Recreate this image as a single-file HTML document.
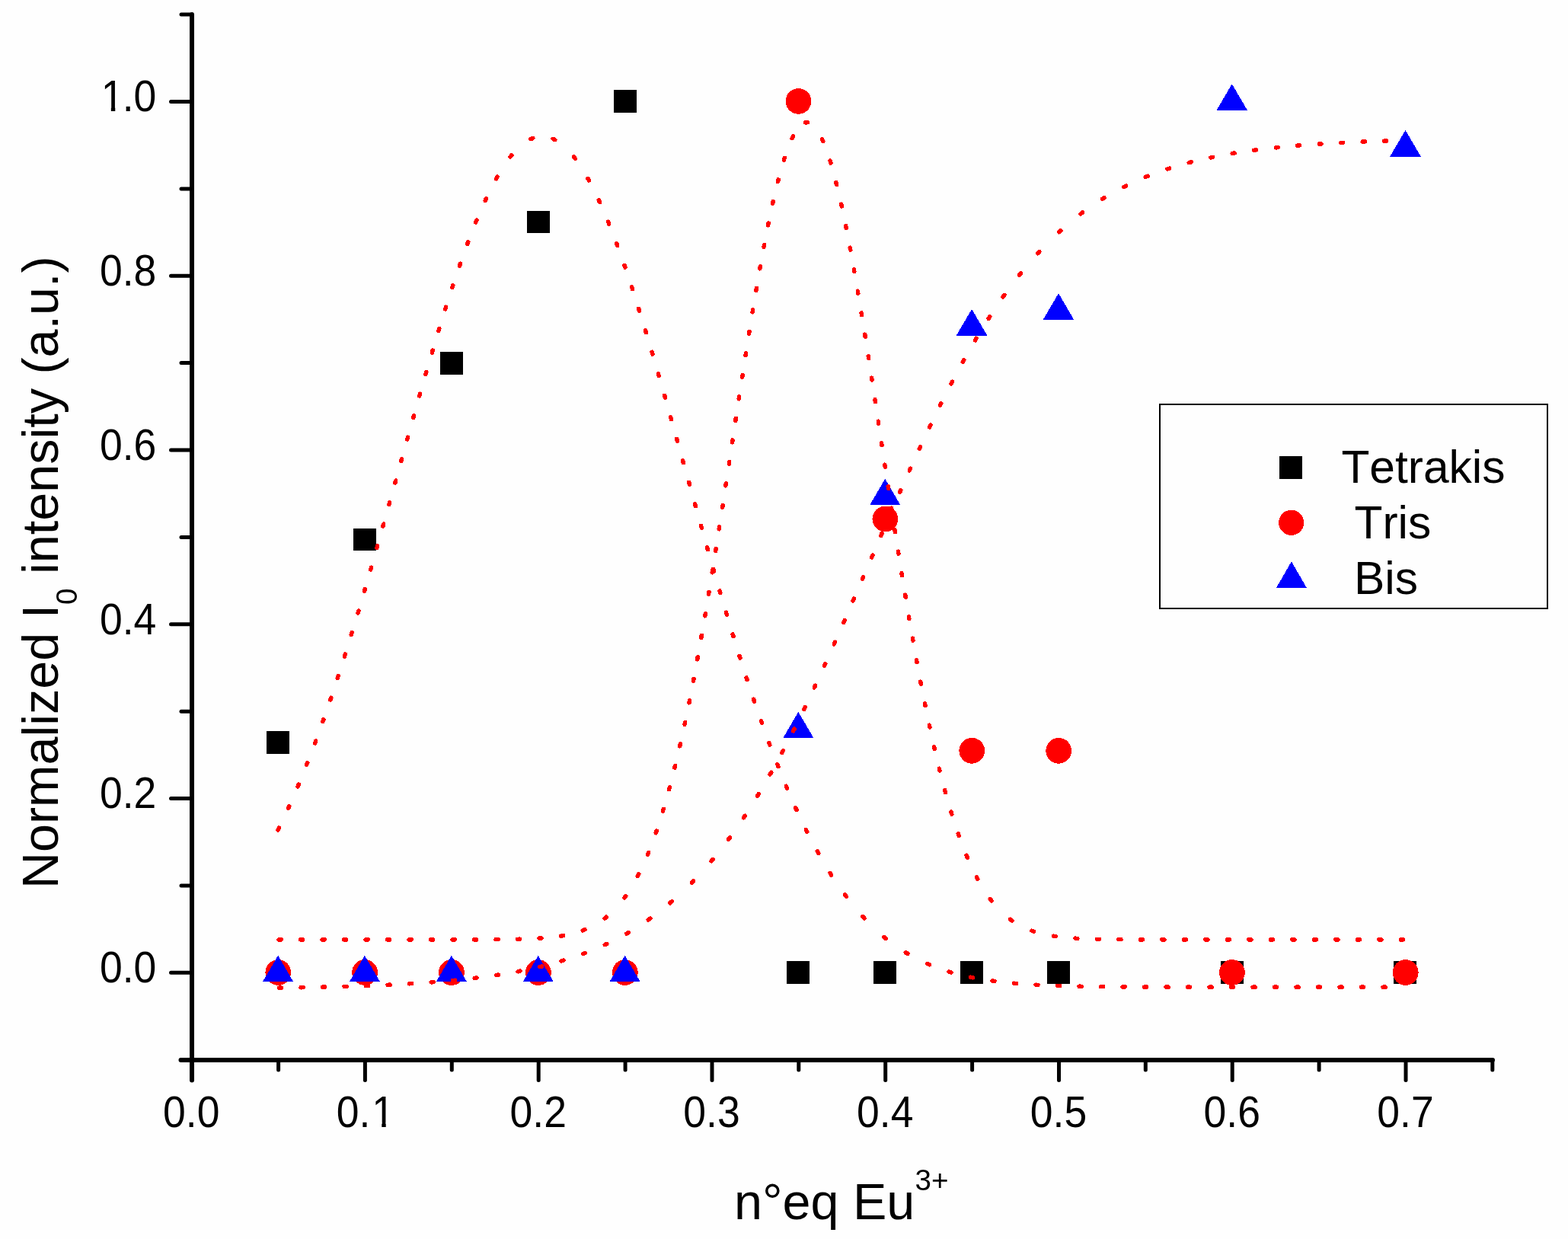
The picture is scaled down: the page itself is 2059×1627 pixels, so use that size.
<!DOCTYPE html>
<html><head><meta charset="utf-8"><title>Normalized I0 intensity vs n°eq Eu3+</title>
<style>html,body{margin:0;padding:0;background:#fefefe;}svg{display:block;}text{font-kerning:none;font-feature-settings:"kern" 0;}</style>
</head><body>
<svg width="2059" height="1627" viewBox="0 0 2059 1627">
<style>circle,polygon,path{shape-rendering:crispEdges}</style>
<rect width="2059" height="1627" fill="#fefefe"/>
<rect x="350" y="960" width="30" height="30" fill="#000"/>
<rect x="464" y="694" width="30" height="29" fill="#000"/>
<rect x="578" y="462" width="30" height="30" fill="#000"/>
<rect x="692" y="277" width="30" height="29" fill="#000"/>
<rect x="806" y="118" width="30" height="30" fill="#000"/>
<rect x="1033" y="1262" width="30" height="30" fill="#000"/>
<rect x="1147" y="1262" width="30" height="30" fill="#000"/>
<rect x="1261" y="1262" width="30" height="30" fill="#000"/>
<rect x="1375" y="1262" width="30" height="30" fill="#000"/>
<rect x="1603" y="1262" width="30" height="30" fill="#000"/>
<rect x="1830" y="1262" width="30" height="30" fill="#000"/>
<circle cx="365.3" cy="1277.0" r="16.9" fill="#f00"/>
<circle cx="479.1" cy="1277.0" r="16.9" fill="#f00"/>
<circle cx="593.0" cy="1277.0" r="16.9" fill="#f00"/>
<circle cx="706.9" cy="1277.0" r="16.9" fill="#f00"/>
<circle cx="820.8" cy="1277.0" r="16.9" fill="#f00"/>
<circle cx="1048.5" cy="132.9" r="16.9" fill="#f00"/>
<circle cx="1162.4" cy="681.5" r="16.9" fill="#f00"/>
<circle cx="1276.3" cy="985.8" r="16.9" fill="#f00"/>
<circle cx="1390.2" cy="985.8" r="16.9" fill="#f00"/>
<circle cx="1617.9" cy="1277.0" r="16.9" fill="#f00"/>
<circle cx="1845.7" cy="1277.0" r="16.9" fill="#f00"/>
<polygon points="365.1,1254.8 385.3,1289.4 344.8,1289.4" fill="#00f"/>
<polygon points="478.9,1254.8 499.2,1289.4 458.7,1289.4" fill="#00f"/>
<polygon points="592.8,1254.8 613.1,1289.4 572.6,1289.4" fill="#00f"/>
<polygon points="706.7,1254.8 727.0,1289.4 686.5,1289.4" fill="#00f"/>
<polygon points="820.6,1254.8 840.8,1289.4 800.3,1289.4" fill="#00f"/>
<polygon points="1048.3,934.8 1068.6,969.4 1028.1,969.4" fill="#00f"/>
<polygon points="1162.2,628.8 1182.5,663.4 1142.0,663.4" fill="#00f"/>
<polygon points="1276.1,405.9 1296.3,440.5 1255.8,440.5" fill="#00f"/>
<polygon points="1390.0,385.2 1410.2,419.8 1369.7,419.8" fill="#00f"/>
<polygon points="1617.7,110.2 1638.0,144.8 1597.5,144.8" fill="#00f"/>
<polygon points="1845.5,170.9 1865.7,205.5 1825.2,205.5" fill="#00f"/>
<path fill="none" stroke="#f00" stroke-width="5.5" stroke-linecap="round" d="M365.0 1089.9l1.3 -2.7M378.6 1061.4l1.2 -2.7M391.0 1032.9l1.2 -2.8M402.6 1004.4l1.1 -2.8M413.6 975.9l1.0 -2.8M423.9 947.5l1.0 -2.8M433.8 919.0l1.0 -2.8M443.3 890.5l0.9 -2.9M452.4 862.0l0.9 -2.9M461.3 833.5l0.9 -2.9M470.0 805.0l0.9 -2.9M478.4 776.5l0.8 -2.9M486.7 748.0l0.8 -2.9M494.9 719.5l0.8 -2.9M502.9 691.0l0.8 -2.9M510.9 662.5l0.8 -2.9M518.9 634.0l0.8 -2.9M526.8 605.5l0.8 -2.9M534.8 577.0l0.8 -2.9M542.8 548.5l0.8 -2.9M550.8 520.0l0.8 -2.9M559.0 491.5l0.8 -2.9M567.3 463.0l0.9 -2.9M575.9 434.5l0.9 -2.9M584.7 406.0l0.9 -2.9M593.9 377.5l0.9 -2.8M603.5 349.0l1.0 -2.8M613.7 320.4l1.0 -2.8M624.8 291.9l1.1 -2.8M637.1 263.4l1.3 -2.7M651.5 234.8l1.5 -2.6M670.0 206.2l1.9 -2.3M697.0 182.6l2.8 -1.2M726.1 182.3l2.7 1.3M753.5 206.0l1.8 2.4M771.9 234.4l1.5 2.6M786.3 262.9l1.3 2.7M798.6 291.3l1.1 2.8M809.7 319.8l1.0 2.8M819.9 348.3l1.0 2.8M829.6 376.8l0.9 2.9M838.7 405.3l0.9 2.9M847.5 433.8l0.9 2.9M856.1 462.3l0.9 2.9M864.4 490.8l0.8 2.9M872.6 519.3l0.8 2.9M880.7 547.8l0.8 2.9M888.7 576.3l0.8 2.9M896.6 604.8l0.8 2.9M904.6 633.3l0.8 2.9M912.5 661.8l0.8 2.9M920.5 690.3l0.8 2.9M928.6 718.8l0.8 2.9M936.7 747.3l0.8 2.9M945.0 775.8l0.8 2.9M953.5 804.3l0.9 2.9M962.1 832.8l0.9 2.9M971.0 861.3l0.9 2.9M980.1 889.8l0.9 2.9M989.6 918.3l1.0 2.8M999.5 946.8l1.0 2.8M1009.8 975.3l1.0 2.8M1020.8 1003.8l1.1 2.8M1032.4 1032.3l1.2 2.8M1044.8 1060.9l1.2 2.7M1058.4 1089.4l1.3 2.7M1073.3 1117.9l1.5 2.6M1090.1 1146.5l1.6 2.5M1109.5 1175.0l1.8 2.4M1132.9 1203.6l2.0 2.2M1160.9 1230.5l2.3 1.9M1189.3 1250.8l2.6 1.5M1217.7 1265.5l2.8 1.2M1246.1 1276.0l2.9 0.9M1274.6 1283.2l2.9 0.6M1303.1 1288.0l3.0 0.4M1331.6 1291.2l3.0 0.3M1360.1 1293.2l3.0 0.2M1388.6 1294.4l3.0 0.1M1417.1 1295.2l3.0 0.1M1445.6 1295.6l3.0 0.0M1474.1 1295.9l3.0 0.0M1502.6 1296.1l3.0 0.0M1531.1 1296.1l3.0 0.0M1559.6 1296.2l3.0 0.0M1588.1 1296.2l3.0 0.0M1616.6 1296.2l3.0 0.0M1645.1 1296.2l3.0 0.0M1673.6 1296.2l3.0 0.0M1702.1 1296.2l3.0 0.0M1730.6 1296.2l3.0 0.0M1759.1 1296.2l3.0 0.0M1787.6 1296.2l3.0 0.0M1816.1 1296.2l3.0 0.0M366.1 1233.9l3.0 -0.0M394.6 1233.9l3.0 -0.0M423.1 1233.9l3.0 -0.0M451.6 1233.9l3.0 -0.0M480.1 1233.9l3.0 -0.0M508.6 1233.9l3.0 -0.0M537.1 1233.9l3.0 -0.0M565.6 1233.9l3.0 -0.0M594.1 1233.9l3.0 -0.0M622.6 1233.9l3.0 -0.0M651.1 1233.7l3.0 -0.0M679.6 1233.3l3.0 -0.1M708.1 1232.1l3.0 -0.2M736.6 1229.1l3.0 -0.5M765.2 1221.8l2.8 -1.1M793.9 1206.1l2.4 -1.9M819.9 1179.0l1.8 -2.4M837.3 1150.6l1.4 -2.7M850.5 1122.2l1.1 -2.8M861.2 1093.7l1.0 -2.8M870.4 1065.2l0.9 -2.9M878.6 1036.7l0.8 -2.9M885.9 1008.2l0.7 -2.9M892.7 979.8l0.7 -2.9M899.0 951.3l0.6 -2.9M904.9 922.8l0.6 -2.9M910.4 894.3l0.6 -2.9M915.7 865.8l0.5 -3.0M920.8 837.3l0.5 -3.0M925.8 808.8l0.5 -3.0M930.5 780.3l0.5 -3.0M935.2 751.8l0.5 -3.0M939.7 723.3l0.5 -3.0M944.2 694.8l0.5 -3.0M948.6 666.3l0.5 -3.0M952.9 637.8l0.5 -3.0M957.3 609.3l0.4 -3.0M961.6 580.8l0.4 -3.0M965.9 552.3l0.4 -3.0M970.2 523.8l0.5 -3.0M974.6 495.3l0.5 -3.0M979.0 466.8l0.5 -3.0M983.5 438.3l0.5 -3.0M988.1 409.8l0.5 -3.0M992.9 381.3l0.5 -3.0M997.8 352.8l0.5 -3.0M1003.0 324.3l0.6 -2.9M1008.6 295.8l0.6 -2.9M1014.6 267.3l0.7 -2.9M1021.4 238.7l0.7 -2.9M1029.4 210.2l0.9 -2.9M1040.1 181.6l1.3 -2.7M1057.4 160.9l3.0 -0.2M1079.5 182.8l1.2 2.7M1090.0 211.2l0.9 2.9M1097.9 239.7l0.7 2.9M1104.7 268.2l0.6 2.9M1110.7 296.7l0.6 2.9M1116.2 325.2l0.6 2.9M1121.4 353.7l0.5 3.0M1126.3 382.2l0.5 3.0M1131.1 410.7l0.5 3.0M1135.7 439.2l0.5 3.0M1140.2 467.7l0.5 3.0M1144.6 496.2l0.5 3.0M1149.0 524.7l0.5 3.0M1153.3 553.2l0.4 3.0M1157.6 581.7l0.4 3.0M1161.9 610.2l0.4 3.0M1166.2 638.7l0.5 3.0M1170.6 667.2l0.5 3.0M1175.0 695.7l0.5 3.0M1179.5 724.2l0.5 3.0M1184.0 752.7l0.5 3.0M1188.7 781.2l0.5 3.0M1193.4 809.7l0.5 3.0M1198.4 838.2l0.5 3.0M1203.5 866.7l0.5 3.0M1208.8 895.2l0.6 2.9M1214.4 923.7l0.6 2.9M1220.3 952.2l0.6 2.9M1226.6 980.7l0.7 2.9M1233.3 1009.2l0.7 2.9M1240.7 1037.7l0.8 2.9M1248.9 1066.2l0.9 2.9M1258.2 1094.7l1.0 2.8M1269.1 1123.3l1.2 2.8M1282.4 1151.8l1.4 2.6M1300.3 1180.5l1.8 2.4M1326.6 1207.2l2.4 1.8M1354.9 1222.2l2.8 1.0M1383.4 1229.2l3.0 0.4M1411.9 1232.2l3.0 0.2M1440.4 1233.3l3.0 0.1M1468.9 1233.7l3.0 0.0M1497.4 1233.9l3.0 0.0M1525.9 1233.9l3.0 0.0M1554.4 1233.9l3.0 0.0M1582.9 1233.9l3.0 0.0M1611.4 1233.9l3.0 0.0M1639.9 1233.9l3.0 0.0M1668.4 1233.9l3.0 0.0M1696.9 1233.9l3.0 0.0M1725.4 1233.9l3.0 0.0M1753.9 1233.9l3.0 0.0M1782.4 1233.9l3.0 0.0M1810.9 1233.9l3.0 0.0M1839.4 1233.9l3.0 0.0M366.6 1297.2l3.0 -0.0M395.1 1296.8l3.0 -0.1M423.6 1296.2l3.0 -0.1M452.1 1295.4l3.0 -0.1M480.6 1294.5l3.0 -0.1M509.1 1293.3l3.0 -0.1M537.6 1291.8l3.0 -0.2M566.1 1289.9l3.0 -0.2M594.6 1287.5l3.0 -0.3M623.1 1284.4l3.0 -0.4M651.6 1280.6l3.0 -0.5M680.1 1275.8l2.9 -0.6M708.6 1269.7l2.9 -0.7M737.1 1262.0l2.9 -0.9M765.7 1252.5l2.8 -1.1M794.2 1240.7l2.7 -1.3M822.8 1226.0l2.6 -1.5M851.3 1207.9l2.5 -1.7M879.9 1185.8l2.3 -2.0M908.5 1159.1l2.1 -2.2M934.1 1130.7l1.9 -2.3M956.5 1102.3l1.8 -2.4M976.4 1073.8l1.7 -2.5M994.5 1045.3l1.6 -2.6M1011.2 1016.9l1.5 -2.6M1026.9 988.4l1.4 -2.6M1041.7 959.9l1.4 -2.7M1055.8 931.4l1.3 -2.7M1069.3 902.9l1.3 -2.7M1082.5 874.4l1.2 -2.7M1095.3 845.9l1.2 -2.7M1107.8 817.4l1.2 -2.7M1120.2 788.9l1.2 -2.8M1132.4 760.4l1.2 -2.8M1144.6 731.9l1.2 -2.8M1156.8 703.4l1.2 -2.8M1169.1 674.9l1.2 -2.8M1181.6 646.4l1.2 -2.7M1194.3 617.9l1.2 -2.7M1207.3 589.4l1.3 -2.7M1220.6 560.9l1.3 -2.7M1234.5 532.4l1.3 -2.7M1249.0 503.9l1.4 -2.7M1264.3 475.4l1.5 -2.6M1280.5 446.9l1.5 -2.6M1298.1 418.3l1.6 -2.5M1317.2 389.8l1.7 -2.4M1338.5 361.2l1.9 -2.3M1362.8 332.7l2.0 -2.2M1390.6 304.7l2.2 -2.0M1419.0 280.9l2.4 -1.8M1447.4 261.3l2.6 -1.6M1475.9 245.4l2.7 -1.3M1504.3 232.4l2.8 -1.1M1532.8 222.0l2.9 -0.9M1561.3 213.6l2.9 -0.8M1589.7 206.9l2.9 -0.6M1618.2 201.5l3.0 -0.5M1646.7 197.3l3.0 -0.4M1675.2 193.9l3.0 -0.3M1703.7 191.2l3.0 -0.2M1732.2 189.1l3.0 -0.2M1760.7 187.5l3.0 -0.2M1789.2 186.1l3.0 -0.1M1817.7 185.1l3.0 -0.1"/>
<line x1="252" y1="19.1" x2="252" y2="1418.5" stroke-width="6" stroke="#000" stroke-linecap="round"/>
<line x1="237.5" y1="1392" x2="1960" y2="1392" stroke-width="6" stroke="#000" stroke-linecap="round"/>
<line x1="238" y1="1391.7" x2="250" y2="1391.7" stroke-width="5" stroke="#000" stroke-linecap="round"/>
<line x1="224.5" y1="1277.3" x2="250" y2="1277.3" stroke-width="5" stroke="#000" stroke-linecap="round"/>
<line x1="238" y1="1162.9" x2="250" y2="1162.9" stroke-width="5" stroke="#000" stroke-linecap="round"/>
<line x1="224.5" y1="1048.5" x2="250" y2="1048.5" stroke-width="5" stroke="#000" stroke-linecap="round"/>
<line x1="238" y1="934.2" x2="250" y2="934.2" stroke-width="5" stroke="#000" stroke-linecap="round"/>
<line x1="224.5" y1="819.8" x2="250" y2="819.8" stroke-width="5" stroke="#000" stroke-linecap="round"/>
<line x1="238" y1="705.4" x2="250" y2="705.4" stroke-width="5" stroke="#000" stroke-linecap="round"/>
<line x1="224.5" y1="591.0" x2="250" y2="591.0" stroke-width="5" stroke="#000" stroke-linecap="round"/>
<line x1="238" y1="476.6" x2="250" y2="476.6" stroke-width="5" stroke="#000" stroke-linecap="round"/>
<line x1="224.5" y1="362.3" x2="250" y2="362.3" stroke-width="5" stroke="#000" stroke-linecap="round"/>
<line x1="238" y1="247.9" x2="250" y2="247.9" stroke-width="5" stroke="#000" stroke-linecap="round"/>
<line x1="224.5" y1="133.5" x2="250" y2="133.5" stroke-width="5" stroke="#000" stroke-linecap="round"/>
<line x1="238" y1="19.1" x2="250" y2="19.1" stroke-width="5" stroke="#000" stroke-linecap="round"/>
<line x1="365.6" y1="1394" x2="365.6" y2="1405" stroke-width="5" stroke="#000" stroke-linecap="round"/>
<line x1="479.4" y1="1394" x2="479.4" y2="1418.5" stroke-width="5" stroke="#000" stroke-linecap="round"/>
<line x1="593.3" y1="1394" x2="593.3" y2="1405" stroke-width="5" stroke="#000" stroke-linecap="round"/>
<line x1="707.2" y1="1394" x2="707.2" y2="1418.5" stroke-width="5" stroke="#000" stroke-linecap="round"/>
<line x1="821.1" y1="1394" x2="821.1" y2="1405" stroke-width="5" stroke="#000" stroke-linecap="round"/>
<line x1="935.0" y1="1394" x2="935.0" y2="1418.5" stroke-width="5" stroke="#000" stroke-linecap="round"/>
<line x1="1048.8" y1="1394" x2="1048.8" y2="1405" stroke-width="5" stroke="#000" stroke-linecap="round"/>
<line x1="1162.7" y1="1394" x2="1162.7" y2="1418.5" stroke-width="5" stroke="#000" stroke-linecap="round"/>
<line x1="1276.6" y1="1394" x2="1276.6" y2="1405" stroke-width="5" stroke="#000" stroke-linecap="round"/>
<line x1="1390.5" y1="1394" x2="1390.5" y2="1418.5" stroke-width="5" stroke="#000" stroke-linecap="round"/>
<line x1="1504.3" y1="1394" x2="1504.3" y2="1405" stroke-width="5" stroke="#000" stroke-linecap="round"/>
<line x1="1618.2" y1="1394" x2="1618.2" y2="1418.5" stroke-width="5" stroke="#000" stroke-linecap="round"/>
<line x1="1732.1" y1="1394" x2="1732.1" y2="1405" stroke-width="5" stroke="#000" stroke-linecap="round"/>
<line x1="1846.0" y1="1394" x2="1846.0" y2="1418.5" stroke-width="5" stroke="#000" stroke-linecap="round"/>
<line x1="1959.8" y1="1394" x2="1959.8" y2="1405" stroke-width="5" stroke="#000" stroke-linecap="round"/>
<g font-family='"Liberation Sans", Arial, sans-serif' fill="#000">
<text transform="translate(214.02,1480.20) scale(1,1.065)" font-size="53.5">0.0</text>
<text transform="translate(441.77,1480.20) scale(1,1.065)" font-size="53.5">0.<tspan dx="1.8">1</tspan></text>
<text transform="translate(669.52,1480.20) scale(1,1.065)" font-size="53.5">0.2</text>
<text transform="translate(897.27,1480.20) scale(1,1.065)" font-size="53.5">0.3</text>
<text transform="translate(1125.02,1480.20) scale(1,1.065)" font-size="53.5">0.4</text>
<text transform="translate(1352.77,1480.20) scale(1,1.065)" font-size="53.5">0.5</text>
<text transform="translate(1580.52,1480.20) scale(1,1.065)" font-size="53.5">0.6</text>
<text transform="translate(1808.27,1480.20) scale(1,1.065)" font-size="53.5">0.7</text>
<text transform="translate(130.94,1290.10) scale(1,1.055)" font-size="53.5">0.0</text>
<text transform="translate(130.94,1061.34) scale(1,1.055)" font-size="53.5">0.2</text>
<text transform="translate(130.94,832.58) scale(1,1.055)" font-size="53.5">0.4</text>
<text transform="translate(130.94,603.82) scale(1,1.055)" font-size="53.5">0.6</text>
<text transform="translate(130.94,375.06) scale(1,1.055)" font-size="53.5">0.8</text>
<text transform="translate(130.94,146.30) scale(1,1.055)" font-size="53.5"><tspan dx="1.8">1</tspan><tspan dx="-1.8">.0</tspan></text>
<g fill="#fefefe"><rect x="490.80" y="1473.94" width="10.49" height="7.76"/><rect x="506.72" y="1473.94" width="10.29" height="7.76"/><rect x="135.35" y="140.08" width="10.49" height="7.72"/><rect x="151.27" y="140.08" width="10.29" height="7.72"/></g>
<text transform="translate(963.90,1600.80) scale(1,1.01)" font-size="66.5">n°eq Eu</text>
<text transform="translate(1201.60,1562.50)" font-size="38.5">3+</text>
<text transform="translate(75.9,1167.1) rotate(-90) scale(1,1.01)" font-size="66.5">Normalized I<tspan font-size="38.5" dy="25">0</tspan><tspan dy="-25"> intensity (a.u.)</tspan></text>
<rect x="1523" y="531" width="509" height="268" fill="none" stroke="#000" stroke-width="2"/>
<rect x="1680" y="599" width="30" height="30" fill="#000"/>
<circle cx="1695.7" cy="686.3" r="16.6" fill="#f00"/>
<polygon points="1695.9,737.3 1715.9,772 1675.9,772" fill="#00f"/>
<text transform="translate(1761.40,634.00)" font-size="60.5">Tetrakis</text>
<text transform="translate(1778.50,707.30)" font-size="60.5">Tris</text>
<text transform="translate(1778.00,780.00)" font-size="60.5">Bis</text>
</g>
</svg>
</body></html>
